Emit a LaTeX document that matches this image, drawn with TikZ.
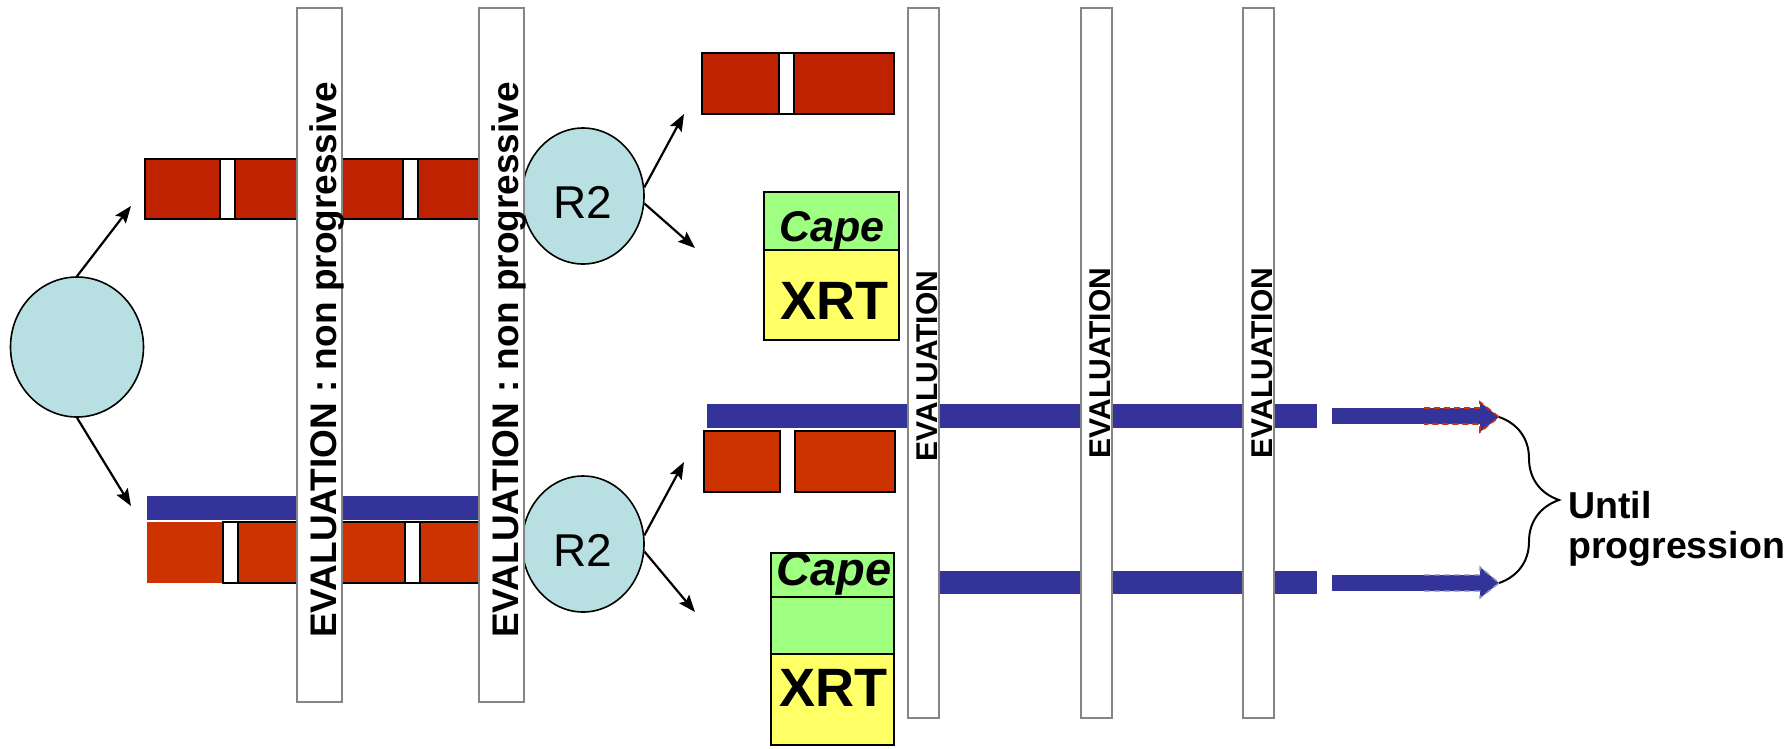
\documentclass[tikz,border=0pt]{standalone}
\usepackage{fontspec}
\setmainfont{Liberation Sans}
\usetikzlibrary{shapes.geometric,arrows.meta,decorations.pathreplacing}

\definecolor{cellblue}{HTML}{B8E0E2}
\definecolor{darkred}{HTML}{BF2200}
\definecolor{brickred}{HTML}{CC3300}
\definecolor{navy}{HTML}{333399}
\definecolor{capegreen}{HTML}{9FFF80}
\definecolor{xrtyellow}{HTML}{FFFF66}
\definecolor{bargray}{HTML}{858585}

\tikzset{
  cell/.style={ellipse, draw=black, line width=1.6pt, fill=cellblue, inner sep=0pt,
               font=\fontsize{46}{50}\selectfont, text height=45pt, text depth=0pt},
  evalbar/.style={draw=bargray, line width=2.6pt, fill=white},
  redseg/.style={draw=black, line width=1.6pt},
  gapseg/.style={fill=white, draw=black, line width=1.6pt},
  flow/.style={line width=2.2pt, -{Stealth[length=17pt,width=13pt,inset=3pt]}},
  bandfill/.style={fill=navy, draw=none},
  evaltxt/.style={inner sep=0pt, anchor=base, rotate=90, font=\bfseries\fontsize{37}{41}\selectfont},
  evalshort/.style={inner sep=0pt, anchor=base, rotate=90, font=\bfseries\fontsize{30}{34}\selectfont},
  boxtxt/.style={inner sep=0pt, anchor=base},
  notetxt/.style={inner sep=0pt, anchor=base west, font=\bfseries\fontsize{37.5}{41}\selectfont},
}

\begin{document}
\begin{tikzpicture}[x=1pt,y=-1pt]
\useasboundingbox (0,0) rectangle (1791,748);

% cells
\node[cell, minimum width=133pt, minimum height=140pt] (src) at (77,347) {};
\node[cell, minimum width=122pt, minimum height=136pt] (r2a) at (583,196) {R2};
\node[cell, minimum width=122pt, minimum height=136pt] (r2b) at (583,544) {R2};

% upper strand
\fill[darkred] (145,159) rectangle (480,219);
\draw[redseg] (145,159) rectangle (480,219);
\draw[gapseg] (220,159) rectangle (235,219);
\draw[gapseg] (403,159) rectangle (418,219);

% lower strand with its blue band
\fill[bandfill] (147,496) rectangle (479,520);
\fill[brickred] (147,522) rectangle (479,583);
\draw[redseg] (223,522) -- (479,522);
\draw[redseg] (223,583) -- (479,583);
\draw[gapseg] (223,522) rectangle (238,583);
\draw[gapseg] (405,522) rectangle (420,583);

% top right strand
\fill[darkred] (702,53) rectangle (894,114);
\draw[redseg] (702,53) rectangle (894,114);
\draw[gapseg] (779,53) rectangle (794,114);

% Cape / XRT stacks
\draw[redseg, fill=capegreen] (764,192) rectangle (899,250);
\draw[redseg, fill=xrtyellow] (764,250) rectangle (899,340);
\draw[redseg, fill=capegreen] (771,553) rectangle (894,597);
\draw[redseg, fill=capegreen] (771,597) rectangle (894,654);
\draw[redseg, fill=xrtyellow] (771,654) rectangle (894,745);

% split pieces
\draw[redseg, fill=brickred] (704,431) rectangle (780,492);
\draw[redseg, fill=brickred] (795,431) rectangle (895,492);

% long blue bands
\fill[bandfill] (707,404) rectangle (1317,428);
\fill[bandfill] (930,571) rectangle (1317,594);

% continuation arrows
\fill[bandfill] (1332,408) rectangle (1425,424);
\fill[bandfill] (1424,408) -- (1480,408) -- (1480,402) -- (1499,417)
  -- (1480,432) -- (1480,424) -- (1424,424) -- cycle;
\draw[brickred, line width=1.6pt, dash pattern=on 6pt off 4pt]
  (1424,408) -- (1480,408) -- (1480,402) -- (1499,417)
  -- (1480,432) -- (1480,424) -- (1424,424);
\coordinate (tipA) at (1499,417);

\fill[bandfill] (1332,575) rectangle (1425,591);
\fill[bandfill] (1424,575) -- (1480,575) -- (1480,567) -- (1499,583)
  -- (1480,598) -- (1480,591) -- (1424,591) -- cycle;
\draw[navy!55, line width=1.4pt, dash pattern=on 6pt off 4pt]
  (1424,575) -- (1480,575) -- (1480,567) -- (1499,583)
  -- (1480,598) -- (1480,591) -- (1424,591);
\coordinate (tipB) at (1499,583);

% evaluation bars
\draw[evalbar] (297,8) rectangle (342,702);
\draw[evalbar] (479,8) rectangle (524,702);
\draw[evalbar] (908,8) rectangle (939,718);
\draw[evalbar] (1081,8) rectangle (1112,718);
\draw[evalbar] (1243,8) rectangle (1274,718);

\node[evaltxt] (ev1) at (336,360) {EVALUATION : non progressive};
\node[evaltxt] (ev2) at (518,360) {EVALUATION : non progressive};
\node[evalshort] (ev3) at (937,366) {EVALUATION};
\node[evalshort] (ev4) at (1110,363) {EVALUATION};
\node[evalshort] (ev5) at (1272,363) {EVALUATION};

% box labels
\node[boxtxt, font=\bfseries\itshape\fontsize{43}{47}\selectfont] (capeA) at (832,241) {Cape};
\node[boxtxt, font=\bfseries\fontsize{54}{58}\selectfont] (xrtA) at (834,319) {XRT};
\node[boxtxt, font=\bfseries\itshape\fontsize{47}{51}\selectfont] (capeB) at (834,585) {Cape};
\node[boxtxt, font=\bfseries\fontsize{54}{58}\selectfont] (xrtB) at (833,706) {XRT};

% branching arrows
\coordinate (upA) at (131,206);
\coordinate (dnA) at (131,506);
\draw[flow] (src.north) -- (upA);
\draw[flow] (src.south) -- (dnA);
\coordinate (r2aUp) at (684,114);
\coordinate (r2aDn) at (695,248);
\coordinate (r2bUp) at (684,462);
\coordinate (r2bDn) at (695,612);
\draw[flow] (r2a.8) -- (r2aUp);
\draw[flow] (r2a.-7) -- (r2aDn);
\draw[flow] (r2b.8) -- (r2bUp);
\draw[flow] (r2b.-7) -- (r2bDn);

% brace and note
\draw[line width=2pt, decorate, decoration={brace, amplitude=60pt}] (tipA) -- (tipB);
\node[notetxt] (until) at (1568,518) {Until};
\node[notetxt] (progr) at (1568,558) {progression};
\end{tikzpicture}
\end{document}
